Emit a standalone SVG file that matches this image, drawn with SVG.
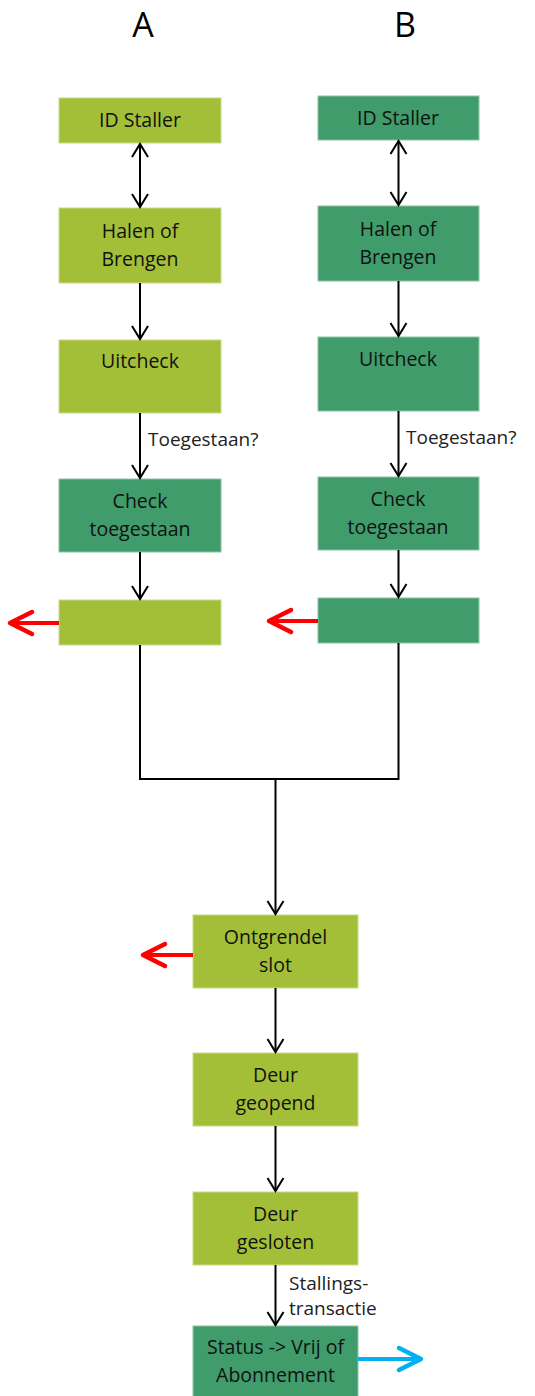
<svg xmlns="http://www.w3.org/2000/svg" width="535" height="1396" viewBox="0 0 535 1396">
  <style>
    .lg { fill: #A3BF37; stroke: #C8DA8A; stroke-width: 1; }
    .dg { fill: #409C6B; stroke: #8CC4A6; stroke-width: 1; }
    .t { font-family: "Open Sans", "Liberation Sans", sans-serif; font-size: 19.5px; fill: #111; text-anchor: middle; }
    .lbl { font-family: "Open Sans", "Liberation Sans", sans-serif; font-size: 19px; fill: #222; }
    .hdr { font-family: "Open Sans", "Liberation Sans", sans-serif; font-size: 34px; fill: #000; text-anchor: middle; }
    .ln { stroke: #000; stroke-width: 2; fill: none; }
    .red { stroke: #FF0000; stroke-width: 4; fill: none; }
    .blue { stroke: #00B0F0; stroke-width: 4; fill: none; }
  </style>
  <defs>
    <marker id="open" viewBox="0 0 20 20" refX="18" refY="10" markerWidth="20" markerHeight="20" markerUnits="userSpaceOnUse" orient="auto-start-reverse">
      <polyline points="5,2 18,10 5,18" fill="none" stroke="#000" stroke-width="2"/>
    </marker>
    <marker id="redHead" viewBox="0 0 30 30" refX="26" refY="15" markerWidth="30" markerHeight="30" markerUnits="userSpaceOnUse" orient="auto">
      <polyline points="4,4 26,15 4,26" fill="none" stroke="#FF0000" stroke-width="4.5" stroke-linecap="round" stroke-linejoin="round"/>
    </marker>
    <marker id="blueHead" viewBox="0 0 30 30" refX="26" refY="15" markerWidth="30" markerHeight="30" markerUnits="userSpaceOnUse" orient="auto">
      <polyline points="4,4 26,15 4,26" fill="none" stroke="#00B0F0" stroke-width="4.5" stroke-linecap="round" stroke-linejoin="round"/>
    </marker>
  </defs>

  <rect width="535" height="1396" fill="#FFFFFF"/>

  <!-- column headings -->
  <text class="hdr" x="143" y="37">A</text>
  <text class="hdr" x="405" y="37">B</text>

  <!-- column A -->
  <g id="a-id-staller">
    <rect class="lg" x="59" y="98" width="162" height="45"/>
    <text class="t" x="140" y="127">ID Staller</text>
  </g>
  <g id="a-halen">
    <rect class="lg" x="59" y="208" width="162" height="75"/>
    <text class="t" x="140" y="238">Halen of</text>
    <text class="t" x="140" y="266">Brengen</text>
  </g>
  <g id="a-uitcheck">
    <rect class="lg" x="59" y="340" width="162" height="73"/>
    <text class="t" x="140" y="368">Uitcheck</text>
  </g>
  <g id="a-check">
    <rect class="dg" x="59" y="479" width="162" height="73"/>
    <text class="t" x="140" y="508">Check</text>
    <text class="t" x="140" y="536">toegestaan</text>
  </g>
  <g id="a-empty">
    <rect class="lg" x="59" y="600" width="162" height="45"/>
  </g>

  <!-- column B -->
  <g id="b-id-staller">
    <rect class="dg" x="318" y="96" width="161" height="44"/>
    <text class="t" x="398" y="125">ID Staller</text>
  </g>
  <g id="b-halen">
    <rect class="dg" x="318" y="206" width="161" height="75"/>
    <text class="t" x="398" y="236">Halen of</text>
    <text class="t" x="398" y="264">Brengen</text>
  </g>
  <g id="b-uitcheck">
    <rect class="dg" x="318" y="337" width="161" height="74"/>
    <text class="t" x="398" y="366">Uitcheck</text>
  </g>
  <g id="b-check">
    <rect class="dg" x="318" y="477" width="161" height="73"/>
    <text class="t" x="398" y="506">Check</text>
    <text class="t" x="398" y="534">toegestaan</text>
  </g>
  <g id="b-empty">
    <rect class="dg" x="318" y="598" width="161" height="45"/>
  </g>

  <!-- shared tail -->
  <g id="ontgrendel">
    <rect class="lg" x="193" y="915" width="165" height="73"/>
    <text class="t" x="275.5" y="944">Ontgrendel</text>
    <text class="t" x="275.5" y="972">slot</text>
  </g>
  <g id="deur-geopend">
    <rect class="lg" x="193" y="1053" width="165" height="73"/>
    <text class="t" x="275.5" y="1082">Deur</text>
    <text class="t" x="275.5" y="1110">geopend</text>
  </g>
  <g id="deur-gesloten">
    <rect class="lg" x="193" y="1192" width="165" height="73"/>
    <text class="t" x="275.5" y="1221">Deur</text>
    <text class="t" x="275.5" y="1249">gesloten</text>
  </g>
  <g id="status">
    <rect class="dg" x="193" y="1326" width="165" height="72"/>
    <text class="t" x="275.5" y="1354">Status -&gt; Vrij of</text>
    <text class="t" x="275.5" y="1382">Abonnement</text>
  </g>

  <!-- connectors -->
  <g id="connectors">
    <line class="ln" x1="140" y1="144" x2="140" y2="207" marker-start="url(#open)" marker-end="url(#open)"/>
    <line class="ln" x1="140" y1="283" x2="140" y2="339" marker-end="url(#open)"/>
    <line class="ln" x1="140" y1="413" x2="140" y2="478" marker-end="url(#open)"/>
    <line class="ln" x1="140" y1="552" x2="140" y2="599" marker-end="url(#open)"/>

    <line class="ln" x1="398.5" y1="141" x2="398.5" y2="205" marker-start="url(#open)" marker-end="url(#open)"/>
    <line class="ln" x1="398.5" y1="281" x2="398.5" y2="336" marker-end="url(#open)"/>
    <line class="ln" x1="398.5" y1="411" x2="398.5" y2="476" marker-end="url(#open)"/>
    <line class="ln" x1="398.5" y1="550" x2="398.5" y2="597" marker-end="url(#open)"/>

    <polyline class="ln" points="140,645 140,779 398.5,779 398.5,643"/>
    <line class="ln" x1="275.5" y1="779" x2="275.5" y2="914" marker-end="url(#open)"/>
    <line class="ln" x1="275.5" y1="988" x2="275.5" y2="1052" marker-end="url(#open)"/>
    <line class="ln" x1="275.5" y1="1126" x2="275.5" y2="1191" marker-end="url(#open)"/>
    <line class="ln" x1="275.5" y1="1265" x2="275.5" y2="1325" marker-end="url(#open)"/>

    <line class="red" x1="59" y1="623" x2="10" y2="623" marker-end="url(#redHead)"/>
    <line class="red" x1="318" y1="621" x2="269" y2="621" marker-end="url(#redHead)"/>
    <line class="red" x1="193" y1="955" x2="143" y2="955" marker-end="url(#redHead)"/>
    <line class="blue" x1="358" y1="1359" x2="421" y2="1359" marker-end="url(#blueHead)"/>

    <text class="lbl" x="148" y="446">Toegestaan?</text>
    <text class="lbl" x="406" y="444">Toegestaan?</text>
    <text class="lbl" x="289" y="1290">Stallings-</text>
    <text class="lbl" x="289" y="1315">transactie</text>
  </g>
</svg>
